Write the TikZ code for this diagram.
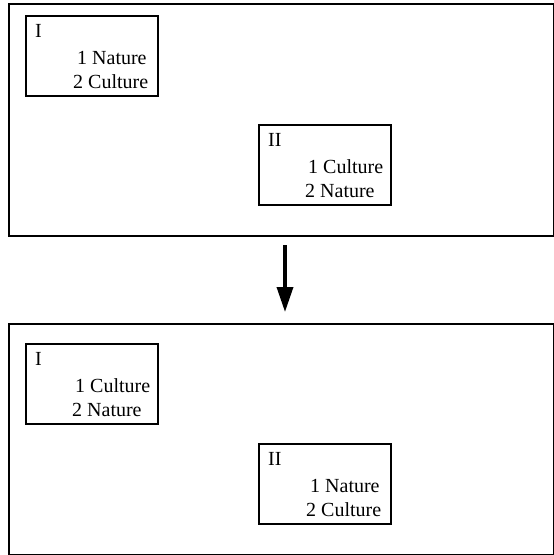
\documentclass[tikz,border=0pt]{standalone}
\usepackage{fontspec}
\setmainfont{Liberation Serif}
\usetikzlibrary{arrows.meta}
\begin{document}
\begin{tikzpicture}[x=1pt,y=-1pt,
  frame/.style={draw,line width=2pt,anchor=north west,inner sep=0pt},
  sub/.style={draw,line width=1.6pt,anchor=north west,inner sep=0pt,minimum width=132pt,minimum height=80pt},
  lbl/.style={anchor=base west,inner sep=0pt,font=\fontsize{20}{24}\selectfont}]
\useasboundingbox (0,0) rectangle (554,555);
% top panel
\node[frame,minimum width=545pt,minimum height=232pt] (topframe) at (8,3) {};
\node[sub] (t1) at (25,15) {};
\node[lbl] (t1a) at ([xshift=10pt,yshift=-22pt]t1.north west) {I};
\node[lbl] (t1b) at ([xshift=52pt,yshift=-49pt]t1.north west) {1 Nature};
\node[lbl] (t1c) at ([xshift=48pt,yshift=-73pt]t1.north west) {2 Culture};
\node[sub] (t2) at (258,124) {};
\node[lbl] (t2a) at ([xshift=10pt,yshift=-22pt]t2.north west) {II};
\node[lbl] (t2b) at ([xshift=50pt,yshift=-49pt]t2.north west) {1 Culture};
\node[lbl] (t2c) at ([xshift=47pt,yshift=-73pt]t2.north west) {2 Nature};
% bottom panel
\node[frame,minimum width=545pt,minimum height=231pt] (botframe) at (8,323) {};
\node[sub] (b1) at (25,343) {};
\node[lbl] (b1a) at ([xshift=10pt,yshift=-22pt]b1.north west) {I};
\node[lbl] (b1b) at ([xshift=50pt,yshift=-49pt]b1.north west) {1 Culture};
\node[lbl] (b1c) at ([xshift=47pt,yshift=-73pt]b1.north west) {2 Nature};
\node[sub] (b2) at (258,443) {};
\node[lbl] (b2a) at ([xshift=10pt,yshift=-22pt]b2.north west) {II};
\node[lbl] (b2b) at ([xshift=52pt,yshift=-49pt]b2.north west) {1 Nature};
\node[lbl] (b2c) at ([xshift=48pt,yshift=-73pt]b2.north west) {2 Culture};
% arrow
\coordinate (as) at (285,245);
\coordinate (ae) at (285,312);
\draw[line width=3.5pt,-{Triangle[width=16pt,length=25pt]}] (as) -- (ae);
\end{tikzpicture}
\end{document}
